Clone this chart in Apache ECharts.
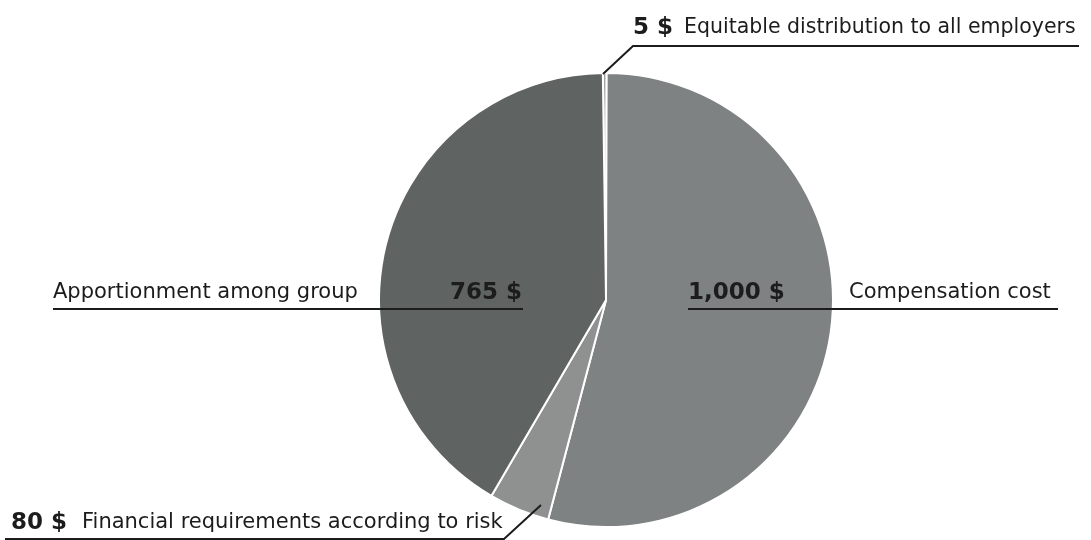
<!DOCTYPE html>
<html>
<head>
<meta charset="utf-8">
<script src="https://cdn.jsdelivr.net/npm/echarts@6/dist/echarts.min.js"></script>
<style>
html,body{margin:0;padding:0;background:#fff;}
#c{width:1091px;height:540px;}
</style>
</head>
<body>
<div id="c"></div>
<script>
const categories = ['Equitable distribution to all employers', 'Compensation cost', 'Financial requirements according to risk', 'Apportionment among group'];
const values = [5, 1000, 80, 765];
const valueLabels = ['5 $', '1,000 $', '80 $', '765 $'];
const colors = ['#a3a5a5', '#7e8283', '#8f9191', '#5f6463'];

const chart = echarts.init(document.getElementById('c'), null, {renderer: 'canvas'});
const FONT = 'DejaVu Sans';
const INK = '#1c1c1c';

// label placement (layout only)
const layouts = [
  {x: 633, y: 28, pts: [[603, 74], [633, 46], [1079, 46]]},
  {x: 688, y: 293, pts: [[688, 309], [873, 309], [1058, 309]]},
  {x: 11, y: 523, pts: [[541, 505], [504, 539], [5, 539]]},
  {x: 53, y: 293, pts: [[523, 309], [288, 309], [53, 309]]}
];

const pieBase = {
  type: 'pie',
  center: [606, 300],
  radius: 227,
  startAngle: 90.8,
  clockwise: true,
  avoidLabelOverlap: false
};

const option = {
  backgroundColor: '#ffffff',
  animation: false,
  series: [
    Object.assign({}, pieBase, {
      z: 2,
      silent: true,
      itemStyle: {borderColor: '#ffffff', borderWidth: 2},
      label: {show: false},
      labelLine: {show: false},
      data: categories.map(function (c, i) {
        return {name: c, value: values[i], itemStyle: {color: colors[i]}};
      })
    }),
    Object.assign({}, pieBase, {
      z: 5,
      silent: true,
      itemStyle: {color: 'rgba(0,0,0,0)', borderWidth: 0},
      label: {
        show: true,
        position: 'outside',
        color: INK,
        opacity: 1,
        fontFamily: FONT,
        formatter: function (p) {
          const i = p.dataIndex;
          if (i === 3) return '{d3|' + categories[i] + '}{v3|' + valueLabels[i] + '}';
          if (i === 0) return '{v0|' + valueLabels[i] + '}{d0|' + categories[i] + '}';
          if (i === 1) return '{v1|' + valueLabels[i] + '}{d|' + categories[i] + '}';
          return '{v2|' + valueLabels[i] + '}{d|' + categories[i] + '}';
        },
        rich: {
          d: {fontFamily: FONT, fontSize: 21, color: INK},
          d0: {fontFamily: FONT, fontSize: 20.5, color: INK},
          d3: {fontFamily: FONT, fontSize: 21, color: INK, width: 389},
          v0: {fontFamily: FONT, fontSize: 23, fontWeight: 'bold', color: INK, width: 51},
          v1: {fontFamily: FONT, fontSize: 23, fontWeight: 'bold', color: INK, width: 161},
          v2: {fontFamily: FONT, fontSize: 23, fontWeight: 'bold', color: INK, width: 71},
          v3: {fontFamily: FONT, fontSize: 23, fontWeight: 'bold', color: INK, width: 80, align: 'right'}
        }
      },
      labelLine: {
        show: true,
        smooth: false,
        lineStyle: {color: INK, width: 2, opacity: 1}
      },
      labelLayout: function (params) {
        const L = layouts[params.dataIndex];
        return {
          x: L.x,
          y: L.y,
          align: 'left',
          verticalAlign: 'middle',
          labelLinePoints: L.pts
        };
      },
      data: categories.map(function (c, i) {
        return {name: c, value: values[i]};
      })
    })
  ]
};
chart.setOption(option);
</script>
</body>
</html>
